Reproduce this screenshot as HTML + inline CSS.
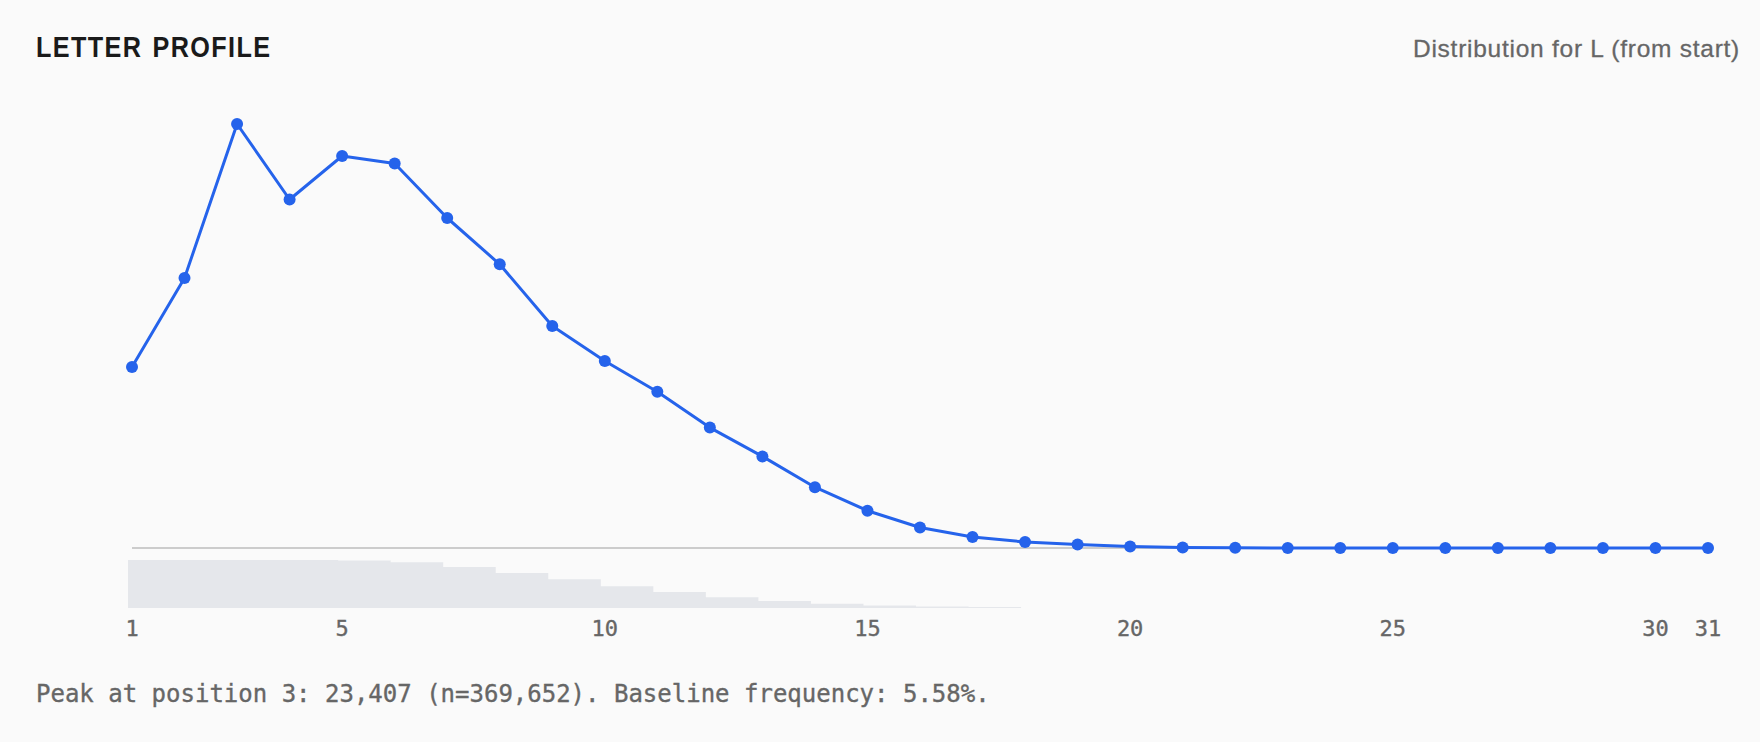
<!DOCTYPE html>
<html lang="en">
<head>
<meta charset="utf-8">
<title>Letter Profile</title>
<style>
html,body{margin:0;padding:0;background:#fafafa;}
body{width:1760px;height:742px;position:relative;overflow:hidden;font-family:"Liberation Sans",sans-serif;}
.card{position:absolute;left:0;top:0;width:1760px;height:742px;background:#fafafa;}
.title{position:absolute;left:36px;top:31px;margin:0;font-size:29px;line-height:32px;font-weight:700;color:#1a1a1a;letter-spacing:1.6px;word-spacing:2px;white-space:nowrap;transform:scaleX(0.869);transform-origin:0 0;}
.sub{-webkit-text-stroke:0.3px #666;position:absolute;right:20px;top:35px;font-size:24.5px;line-height:28px;letter-spacing:0.74px;color:#666;white-space:nowrap;}
.note{-webkit-text-stroke:0.35px #666;position:absolute;left:36px;top:680px;margin:0;font-family:"DejaVu Sans Mono","Liberation Mono",monospace;font-size:24px;line-height:28px;color:#666;white-space:pre;}
svg{position:absolute;left:0;top:0;}
svg text{font-family:"DejaVu Sans Mono","Liberation Mono",monospace;font-size:22px;fill:#666;stroke:#666;stroke-width:0.35px;text-anchor:middle;}
</style>
</head>
<body>
<div class="card">
<h2 class="title">LETTER PROFILE</h2>
<div class="sub">Distribution for L (from start)</div>
<svg width="1760" height="742" viewBox="0 0 1760 742">
<g fill="#e5e7eb">
<path d="M128 608 V560.00 H180.53 V560.00 H233.07 V560.00 H285.60 V560.00 H338.13 V560.60 H390.67 V562.30 H443.20 V567.00 H495.73 V572.90 H548.27 V579.20 H600.80 V586.20 H653.33 V592.10 H705.87 V597.20 H758.40 V601.10 H810.93 V603.70 H863.47 V605.40 H916.00 V606.40 H968.53 V607.00 H1021.07 V608 Z"/>
</g>
<line x1="132" y1="548" x2="1708" y2="548" stroke="#ccc" stroke-width="2"/>
<polyline points="132.00,367.00 184.53,278.00 237.07,124.00 289.60,199.50 342.13,156.00 394.67,163.50 447.20,218.00 499.73,264.30 552.27,326.00 604.80,361.00 657.33,391.70 709.87,427.60 762.40,456.40 814.93,487.20 867.47,510.70 920.00,527.50 972.53,537.00 1025.07,542.00 1077.60,544.50 1130.13,546.40 1182.67,547.50 1235.20,547.80 1287.73,548.00 1340.27,548.00 1392.80,548.00 1445.33,548.00 1497.87,548.00 1550.40,548.00 1602.93,548.00 1655.47,548.00 1708.00,548.00" fill="none" stroke="#2563eb" stroke-width="3" stroke-linejoin="round" stroke-linecap="round"/>
<g fill="#2563eb">
<circle cx="132.00" cy="367.00" r="6"/>
<circle cx="184.53" cy="278.00" r="6"/>
<circle cx="237.07" cy="124.00" r="6"/>
<circle cx="289.60" cy="199.50" r="6"/>
<circle cx="342.13" cy="156.00" r="6"/>
<circle cx="394.67" cy="163.50" r="6"/>
<circle cx="447.20" cy="218.00" r="6"/>
<circle cx="499.73" cy="264.30" r="6"/>
<circle cx="552.27" cy="326.00" r="6"/>
<circle cx="604.80" cy="361.00" r="6"/>
<circle cx="657.33" cy="391.70" r="6"/>
<circle cx="709.87" cy="427.60" r="6"/>
<circle cx="762.40" cy="456.40" r="6"/>
<circle cx="814.93" cy="487.20" r="6"/>
<circle cx="867.47" cy="510.70" r="6"/>
<circle cx="920.00" cy="527.50" r="6"/>
<circle cx="972.53" cy="537.00" r="6"/>
<circle cx="1025.07" cy="542.00" r="6"/>
<circle cx="1077.60" cy="544.50" r="6"/>
<circle cx="1130.13" cy="546.40" r="6"/>
<circle cx="1182.67" cy="547.50" r="6"/>
<circle cx="1235.20" cy="547.80" r="6"/>
<circle cx="1287.73" cy="548.00" r="6"/>
<circle cx="1340.27" cy="548.00" r="6"/>
<circle cx="1392.80" cy="548.00" r="6"/>
<circle cx="1445.33" cy="548.00" r="6"/>
<circle cx="1497.87" cy="548.00" r="6"/>
<circle cx="1550.40" cy="548.00" r="6"/>
<circle cx="1602.93" cy="548.00" r="6"/>
<circle cx="1655.47" cy="548.00" r="6"/>
<circle cx="1708.00" cy="548.00" r="6"/>
</g>
<g>
<text x="132.00" y="636">1</text>
<text x="342.13" y="636">5</text>
<text x="604.80" y="636">10</text>
<text x="867.47" y="636">15</text>
<text x="1130.13" y="636">20</text>
<text x="1392.80" y="636">25</text>
<text x="1655.47" y="636">30</text>
<text x="1708.00" y="636">31</text>
</g>
</svg>
<p class="note">Peak at position 3: 23,407 (n=369,652). Baseline frequency: 5.58%.</p>
</div>
</body>
</html>
